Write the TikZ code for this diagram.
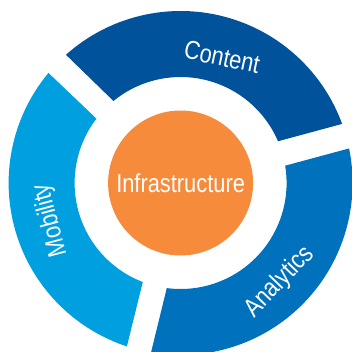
\documentclass[tikz,border=0pt]{standalone}
\usepackage{fontspec}
\setmainfont[FakeStretch=0.84]{Liberation Sans}
\definecolor{contentblue}{HTML}{00529B}
\definecolor{mobilityblue}{HTML}{009FDF}
\definecolor{analyticsblue}{HTML}{0071BC}
\definecolor{huborange}{HTML}{F68B3C}
\begin{document}
\begin{tikzpicture}[x=1pt,y=1pt,
  ringlabel/.style={text=white,font=\fontsize{26}{28}\selectfont,inner sep=0pt,anchor=center}]
\path[use as bounding box] (-180.6,-168) rectangle (171.4,183);
\begin{scope}
\clip (-180.6,-168) rectangle (171.4,183);
\fill[contentblue] (131.8:172) arc[start angle=131.8,end angle=20.1,radius=172]
  -- (23.2:106) arc[start angle=23.2,end angle=129.3,radius=106] -- cycle;
\fill[mobilityblue] (140.2:172) arc[start angle=140.2,end angle=251.8,radius=172]
  -- (249.1:106) arc[start angle=249.1,end angle=142.6,radius=106] -- cycle;
\fill[analyticsblue] (11.6:172) arc[start angle=11.6,end angle=-99.9,radius=172]
  -- (-97.5:106) arc[start angle=-97.5,end angle=9.4,radius=106] -- cycle;
\end{scope}
\node[circle,fill=huborange,minimum size=145pt,inner sep=0pt,text=white,
  font=\fontsize{26}{28}\selectfont] (hub) at (0,0) {Infrastructure};
\node[ringlabel,rotate=-12] (content) at (41.5,126) {Content};
\node[ringlabel,rotate=105] (mobility) at (-130,-37) {Mobility};
\node[ringlabel,rotate=46] (analytics) at (99,-99) {Analytics};
\end{tikzpicture}
\end{document}
